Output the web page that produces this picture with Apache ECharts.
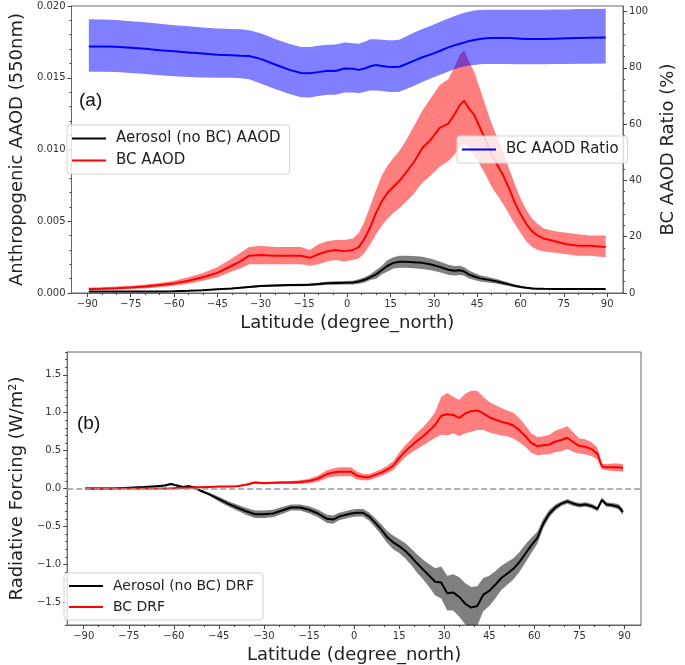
<!DOCTYPE html>
<html><head><meta charset="utf-8">
<script src="https://cdn.jsdelivr.net/npm/echarts@6/dist/echarts.min.js"></script>
<style>html,body{margin:0;padding:0;background:#fff}#c{width:685px;height:665px}</style>
</head><body><div id="c"></div>
<script>
// ---- tick labels ----
const latTicks = [-90,-75,-60,-45,-30,-15,0,15,30,45,60,75,90];
const latMinorTicks = [-90,-85,-80,-75,-70,-65,-60,-55,-50,-45,-40,-35,-30,-25,-20,-15,-10,-5,0,5,10,15,20,25,30,35,40,45,50,55,60,65,70,75,80,85,90];
const ratioTicks = [0,20,40,60,80,100];
const ratioMinorTicks = [0,4,8,12,16,20,24,28,32,36,40,44,48,52,56,60,64,68,72,76,80,84,88,92,96,100];
const drfTicks = [-1.5,-1.0,-0.5,0,0.5,1.0,1.5];
const drfMinorTicks = [-1.8,-1.7,-1.6,-1.5,-1.4,-1.3,-1.2,-1.1,-1.0,-0.9,-0.8,-0.7,-0.6,-0.5,-0.4,-0.3,-0.2,-0.1,0,0.1,0.2,0.3,0.4,0.5,0.6,0.7,0.8,0.9,1.0,1.1,1.2,1.3,1.4,1.5,1.6,1.7,1.8];

// ---- panel (a): AAOD and ratio ----
const latA = [-89.5,-85,-80,-75,-70,-65,-60,-55,-50,-45,-40,-37,-34,-30,-25,-20,-16,-13,-10,-7,-4,-1,2,4,6,8,10,12,14,16,18,20,23,26,29,32,35,37,39,40.5,42,44,46,48,50,52,54,56,58,60,62,64,66,68,72,76,80,84,89.5];
const bcAaod = [.00028,.0003,.00033,.00038,.00045,.00055,.00067,.00085,.0011,.0014, .0019,.0022,.0026,.00265,.0026,.0026,.0026,.00245,.0027,.0029, .003,.0029,.003,.0032,.0038,.0046,.0056,.0064,.007,.0074, .0078,.0083,.0091,.0101,.0107,.0115,.0118,.0124,.0131,.0134, .0129,.0124,.0115,.0106,.0097,.0089,.0082,.0073,.0063,.0055, .0048,.0043,.004,.0038,.0036,.0034,.0033,.0033,.0032];
const bcAaodHi = [.00038,.0004,.00045,.0005,.0006,.0007,.00085,.0011,.0014,.0018, .0024,.0028,.0032,.0033,.0032,.0032,.0032,.003,.0034,.0036, .0037,.0037,.0038,.0042,.005,.0061,.0072,.0082,.0089,.0094, .0099,.0105,.0116,.0127,.0136,.0145,.0149,.0157,.0166,.0169, .0162,.0154,.0142,.013,.0118,.0108,.0098,.0087,.0076,.0066, .0058,.0052,.0048,.0045,.0043,.0042,.0041,.004,.004];
const bcAaodLo = [.0002,.00022,.00024,.00028,.00032,.0004,.0005,.00065,.00085,.0011, .0015,.0017,.002,.002,.002,.002,.002,.0019,.002,.0022, .0023,.0022,.0023,.0024,.0028,.0034,.0041,.0047,.0052,.0056, .0059,.0063,.0069,.0077,.0082,.0088,.0092,.0096,.0102,.0104, .0101,.0096,.0089,.0082,.0074,.0068,.0062,.0055,.0048,.0042, .0036,.0032,.003,.0029,.0028,.0027,.0026,.0026,.0025];
const aeroAaod = [.0001,.0001,.0001,.0001,.0001,.0001,.00012,.00015,.0002,.00026, .00032,.00037,.00042,.00048,.00053,.00055,.00056,.00058,.00062,.00068, .0007,.00071,.00073,.0008,.00092,.0011,.0013,.0016,.0019,.0021, .00218,.00218,.00215,.0021,.00198,.00182,.00162,.00155,.00158,.0015, .0013,.00115,.00102,.00095,.00088,.0008,.0007,.0006,.0005,.00042, .00036,.00032,.0003,.00029,.00028,.00028,.00028,.00028,.00028];
const aeroAaodHi = [.00013,.00013,.00013,.00013,.00013,.00013,.00015,.00018,.00024,.0003, .00037,.00042,.00048,.00055,.0006,.00063,.00065,.00067,.00072,.00079, .00082,.00083,.00086,.00095,.0011,.0013,.0016,.0019,.0023,.0025, .0026,.0026,.00258,.00252,.00238,.0022,.00196,.00188,.0019,.0018, .00158,.0014,.00124,.00115,.00106,.00096,.00084,.00072,.0006,.0005, .00043,.00038,.00035,.00033,.00032,.00032,.00032,.00032,.00032];
const aeroAaodLo = [.00007,.00007,.00007,.00007,.00007,.00007,.00009,.00012,.00016,.00022, .00027,.00032,.00036,.00041,.00046,.00047,.00047,.00049,.00052,.00057, .00058,.00059,.0006,.00065,.00074,.0009,.001,.0013,.0015,.0017, .00176,.00176,.00172,.00168,.00158,.00144,.00128,.00122,.00126,.0012, .00102,.0009,.0008,.00075,.0007,.00064,.00056,.00048,.0004,.00034, .00029,.00026,.00025,.00025,.00024,.00024,.00024,.00024,.00024];
const ratio = [87.6,87.6,87.5,87.2,86.8,86.3,85.9,85.5,85.1,84.7, 84.5,84.3,84.2,83.2,81.2,79.3,78.2,78.1,78.5,79.0, 78.9,79.8,79.7,79.3,79.8,80.6,81.0,80.7,80.4,80.3, 80.4,81.2,82.5,83.8,84.8,86.0,87.3,88.0,88.6,89.0, 89.5,89.9,90.3,90.5,90.6,90.6,90.6,90.6,90.5,90.4, 90.3,90.3,90.3,90.3,90.4,90.5,90.6,90.7,90.8];
const ratioHi = [97.3,97.2,97.0,96.6,96.2,95.7,95.2,94.8,94.4,94.0, 93.8,93.7,93.4,92.3,90.3,88.5,87.4,87.4,87.9,88.2, 88.3,89.0,88.8,88.6,89.3,90.2,90.2,90.0,89.8,89.8, 90.0,91.0,92.5,93.8,95.0,96.3,97.6,98.4,99.1,99.6, 100.0,100.4,100.6,100.7,100.7,100.7,100.7,100.7,100.7,100.7, 100.7,100.7,100.7,100.7,100.8,100.8,100.9,100.9,101.0];
const ratioLo = [78.6,78.6,78.5,78.2,77.8,77.4,77.0,76.8,76.6,76.5, 76.5,76.3,76.0,74.5,72.5,70.7,69.6,69.5,70.0,70.5, 70.5,71.3,71.3,71.0,71.5,72.0,72.0,71.8,71.5,71.4, 71.5,72.3,73.6,75.0,76.3,77.5,78.7,79.5,80.1,80.5, 80.8,81.0,81.3,81.4,81.4,81.4,81.4,81.4,81.3,81.3, 81.3,81.3,81.3,81.3,81.4,81.4,81.5,81.5,81.6];

// ---- panel (b): radiative forcing ----
const latB = [-89.5,-85,-80,-75,-70,-66,-63,-61,-59,-57, -55,-53,-51,-48,-45,-42,-39,-36,-33,-30, -27,-24,-21,-18,-15,-12,-9,-7,-5,-3, -1,1,3,5,7,9,11,13,15,17, 19,21,23,25,27,29,31,33,35,37, 39,41,43,45,47,49,51,53,55,57, 59,61,63,65,67,69,71,73,75,77, 79,81,82.5,84,86,88,89.5];
const aeroDrf = [0,0,0,0.01,0.02,0.03,0.04,0.06,0.04,0.02, 0.03,0.01,-0.03,-0.08,-0.14,-0.2,-0.25,-0.3,-0.34,-0.34, -0.33,-0.29,-0.25,-0.25,-0.28,-0.33,-0.4,-0.41,-0.37,-0.35, -0.33,-0.32,-0.32,-0.37,-0.45,-0.54,-0.64,-0.71,-0.76,-0.82, -0.9,-0.99,-1.07,-1.15,-1.23,-1.24,-1.38,-1.37,-1.43,-1.52, -1.57,-1.55,-1.4,-1.35,-1.27,-1.18,-1.12,-1.06,-0.97,-0.86, -0.75,-0.65,-0.46,-0.33,-0.25,-0.2,-0.17,-0.2,-0.22,-0.21, -0.23,-0.27,-0.15,-0.21,-0.22,-0.24,-0.31];
const aeroDrfHi = [0.005,0.005,0.005,0.018,0.03,0.04,0.052,0.072,0.052,0.032, 0.042,0.022,-0.015,-0.06,-0.11,-0.165,-0.21,-0.255,-0.29,-0.29, -0.28,-0.245,-0.21,-0.21,-0.235,-0.28,-0.345,-0.355,-0.32,-0.3, -0.28,-0.27,-0.27,-0.315,-0.39,-0.47,-0.56,-0.62,-0.67,-0.72, -0.79,-0.87,-0.94,-1.0,-1.05,-1.03,-1.15,-1.13,-1.17,-1.25, -1.3,-1.29,-1.18,-1.15,-1.09,-1.02,-0.97,-0.92,-0.84,-0.74, -0.65,-0.57,-0.4,-0.28,-0.21,-0.17,-0.14,-0.17,-0.19,-0.18, -0.2,-0.24,-0.12,-0.18,-0.19,-0.205,-0.27];
const aeroDrfLo = [-0.005,-0.005,-0.005,0.002,0.01,0.02,0.028,0.048,0.028,0.008, 0.018,-0.002,-0.045,-0.1,-0.17,-0.235,-0.29,-0.345,-0.39,-0.39, -0.38,-0.335,-0.29,-0.29,-0.325,-0.38,-0.455,-0.465,-0.42,-0.4, -0.38,-0.37,-0.37,-0.425,-0.51,-0.61,-0.72,-0.8,-0.85,-0.92, -1.01,-1.11,-1.2,-1.3,-1.41,-1.45,-1.61,-1.61,-1.69,-1.79, -1.84,-1.81,-1.62,-1.55,-1.45,-1.34,-1.27,-1.2,-1.1,-0.98, -0.85,-0.73,-0.52,-0.38,-0.29,-0.23,-0.2,-0.23,-0.25,-0.24, -0.26,-0.3,-0.18,-0.24,-0.25,-0.275,-0.35];
const bcDrf = [0,0,0,0,0,0,0,0,0.005,0.01, 0.01,0.015,0.015,0.02,0.025,0.025,0.03,0.05,0.08,0.07, 0.075,0.08,0.08,0.085,0.1,0.13,0.19,0.21,0.22,0.22, 0.22,0.17,0.15,0.15,0.18,0.21,0.25,0.3,0.4,0.49, 0.56,0.63,0.69,0.76,0.84,0.96,0.98,0.97,0.93,0.99, 1.02,1.03,0.99,0.94,0.91,0.88,0.86,0.83,0.77,0.69, 0.6,0.56,0.57,0.58,0.62,0.64,0.67,0.61,0.56,0.55, 0.52,0.46,0.29,0.28,0.28,0.28,0.27];
const bcDrfHi = [0.005,0.005,0.005,0.005,0.005,0.005,0.005,0.005,0.01,0.016, 0.016,0.022,0.022,0.028,0.033,0.034,0.04,0.062,0.095,0.085, 0.09,0.097,0.1,0.11,0.13,0.17,0.24,0.265,0.28,0.28, 0.28,0.22,0.19,0.19,0.22,0.255,0.3,0.36,0.47,0.57, 0.65,0.74,0.81,0.9,1.01,1.21,1.26,1.21,1.17,1.25, 1.29,1.29,1.21,1.14,1.1,1.06,1.03,1.0,0.93,0.83, 0.73,0.68,0.69,0.71,0.76,0.79,0.82,0.74,0.66,0.65, 0.61,0.54,0.33,0.32,0.33,0.33,0.32];
const bcDrfLo = [-0.005,-0.005,-0.005,-0.005,-0.005,-0.005,-0.005,-0.005,0,0.004, 0.004,0.008,0.008,0.012,0.017,0.016,0.02,0.038,0.065,0.055, 0.06,0.063,0.06,0.06,0.07,0.09,0.14,0.155,0.16,0.16, 0.16,0.12,0.11,0.11,0.14,0.165,0.2,0.24,0.33,0.41, 0.47,0.52,0.57,0.62,0.67,0.71,0.7,0.73,0.69,0.73, 0.75,0.77,0.77,0.74,0.72,0.7,0.69,0.66,0.61,0.55, 0.47,0.44,0.45,0.45,0.48,0.49,0.52,0.48,0.46,0.45, 0.43,0.38,0.25,0.24,0.23,0.23,0.22];

// ---- build chart ----
const FONT = 'DejaVu Sans';
const frame = '#666';
const tickCol = '#444';
const minus = s => String(s).replace('-', '\u2212');
const pairs = (xs, ys) => xs.map((x, i) => [x, ys[i]]);

// shaded band between lo and hi, drawn as one polygon through the axis scales
function bandSeries(xs, lo, hi, color, xi, yi) {
  return {
    type:'custom', xAxisIndex:xi, yAxisIndex:yi, silent:true, z:2,
    data: xs.map((x, i) => [x, lo[i], hi[i]]),
    dimensions:['x','lo','hi'],
    encode:{x:0, y:[1,2]},
    renderItem: function (params, api) {
      if (params.dataIndexInside !== 0) return null;
      const n = params.dataInsideLength;
      const top = [], bot = [];
      for (let i = 0; i < n; i++) {
        const x = api.value(0, i);
        top.push(api.coord([x, api.value(2, i)]));
        bot.push(api.coord([x, api.value(1, i)]));
      }
      const cs = params.coordSys;
      return {
        type:'polygon',
        shape:{points: top.concat(bot.reverse())},
        style:{fill:color, stroke:null},
        clipPath:{type:'rect', shape:{x:cs.x, y:cs.y, width:cs.width, height:cs.height}}
      };
    }
  };
}
function lineSeries(name, xs, ys, color, xi, yi, extra) {
  return Object.assign({type:'line', name:name, xAxisIndex:xi, yAxisIndex:yi, data:pairs(xs, ys),
    symbol:'none', showSymbol:false, lineStyle:{color:color, width:2}, itemStyle:{color:color}, z:3}, extra || {});
}
function mainX(grid) {
  return {type:'value', gridIndex:grid, min:-95.5, max:95.5, position:'bottom',
    name:'Latitude (degree_north)', nameLocation:'middle', nameGap:21,
    nameTextStyle:{fontSize:18, color:'#222', fontFamily:FONT},
    axisLine:{show:true, onZero:false, lineStyle:{color:frame}},
    axisTick:{show:true, customValues:latTicks, length:4, lineStyle:{color:tickCol}},
    axisLabel:{customValues:latTicks, fontSize:10, color:'#333', margin:6, formatter:v => minus(v)},
    splitLine:{show:false}};
}
function minorX(grid) {
  return {type:'value', gridIndex:grid, min:-95.5, max:95.5, position:'bottom',
    axisLine:{show:false, onZero:false}, axisLabel:{show:false},
    axisTick:{show:true, customValues:latMinorTicks, length:2, lineStyle:{color:tickCol}},
    splitLine:{show:false}};
}
const legendCommon = {icon:'rect', itemWidth:34, itemHeight:2, itemGap:7, selectedMode:false,
  backgroundColor:'rgba(255,255,255,0.8)', borderColor:'#d4d4d4', borderWidth:1, borderRadius:3,
  padding:[6,9,6,5], textStyle:{fontSize:15, color:'#222', fontFamily:FONT, padding:[0,0,0,5]}};

const option = {
  animation:false,
  textStyle:{fontFamily:FONT},
  grid:[
    {left:57, right:44, top:6, height:287, show:true, borderColor:frame, borderWidth:1, backgroundColor:'transparent'},
    {left:57, right:44, top:352, height:275, show:true, borderColor:frame, borderWidth:1, backgroundColor:'transparent'}
  ],
  xAxis:[mainX(0), minorX(0), mainX(1), minorX(1)],
  yAxis:[
    {type:'value', gridIndex:0, min:0, max:0.02, interval:0.005, position:'left',
     name:'Anthropogenic AAOD (550nm)', nameLocation:'middle', nameGap:34, nameRotate:90,
     nameTextStyle:{fontSize:18, color:'#222', fontFamily:FONT},
     axisLine:{show:true, onZero:false, lineStyle:{color:frame}},
     axisTick:{show:true, length:4, lineStyle:{color:tickCol}},
     minorTick:{show:true, splitNumber:5, length:2, lineStyle:{color:tickCol}},
     axisLabel:{fontSize:10, color:'#333', margin:6, formatter:v => v.toFixed(3)},
     splitLine:{show:false}, minorSplitLine:{show:false}},
    {type:'value', gridIndex:0, min:0, max:102, position:'right',
     name:'BC AAOD Ratio (%)', nameLocation:'middle', nameGap:27, nameRotate:90,
     nameTextStyle:{fontSize:18, color:'#222', fontFamily:FONT},
     axisLine:{show:true, onZero:false, lineStyle:{color:frame}},
     axisTick:{show:true, customValues:ratioTicks, length:4, lineStyle:{color:tickCol}},
     axisLabel:{customValues:ratioTicks, fontSize:10, color:'#333', margin:6},
     splitLine:{show:false}},
    {type:'value', gridIndex:0, min:0, max:102, position:'right',
     axisLine:{show:false, onZero:false}, axisLabel:{show:false},
     axisTick:{show:true, customValues:ratioMinorTicks, length:2, lineStyle:{color:tickCol}},
     splitLine:{show:false}},
    {type:'value', gridIndex:1, min:-1.8, max:1.8, position:'left',
     name:'Radiative Forcing (W/m\u00b2)', nameLocation:'middle', nameGap:34, nameRotate:90,
     nameTextStyle:{fontSize:18, color:'#222', fontFamily:FONT},
     axisLine:{show:true, onZero:false, lineStyle:{color:frame}},
     axisTick:{show:true, customValues:drfTicks, length:4, lineStyle:{color:tickCol}},
     axisLabel:{customValues:drfTicks, fontSize:10, color:'#333', margin:6, formatter:v => minus(v.toFixed(1))},
     splitLine:{show:false}},
    {type:'value', gridIndex:1, min:-1.8, max:1.8, position:'left',
     axisLine:{show:false, onZero:false}, axisLabel:{show:false},
     axisTick:{show:true, customValues:drfMinorTicks, length:2, lineStyle:{color:tickCol}},
     splitLine:{show:false}}
  ],
  legend:[
    Object.assign({}, legendCommon, {data:['Aerosol (no BC) AAOD','BC AAOD'], orient:'vertical', left:67, top:125}),
    Object.assign({}, legendCommon, {data:['BC AAOD Ratio'], orient:'vertical', left:457, top:136}),
    Object.assign({}, legendCommon, {data:['Aerosol (no BC) DRF','BC DRF'], orient:'vertical', left:64, top:573,
      textStyle:{fontSize:14, color:'#222', fontFamily:FONT, padding:[0,0,0,5]}})
  ],
  graphic:[
    {type:'text', left:79, top:91, style:{text:'(a)', font:'19px "Liberation Sans"', fill:'#111'}},
    {type:'text', left:77, top:414, style:{text:'(b)', font:'19px "Liberation Sans"', fill:'#111'}}
  ],
  series:[
    bandSeries(latA, bcAaodLo, bcAaodHi, 'rgba(255,0,0,0.5)', 0, 0),
    bandSeries(latA, aeroAaodLo, aeroAaodHi, 'rgba(0,0,0,0.5)', 0, 0),
    lineSeries('Aerosol (no BC) AAOD', latA, aeroAaod, '#000', 0, 0),
    lineSeries('BC AAOD', latA, bcAaod, '#ff0000', 0, 0),
    bandSeries(latA, ratioLo, ratioHi, 'rgba(0,0,255,0.5)', 0, 1),
    lineSeries('BC AAOD Ratio', latA, ratio, '#0000ff', 0, 1),
    bandSeries(latB, aeroDrfLo, aeroDrfHi, 'rgba(0,0,0,0.5)', 2, 3),
    bandSeries(latB, bcDrfLo, bcDrfHi, 'rgba(255,0,0,0.5)', 2, 3),
    lineSeries('Aerosol (no BC) DRF', latB, aeroDrf, '#000', 2, 3),
    lineSeries('BC DRF', latB, bcDrf, '#ff0000', 2, 3, {
      markLine:{silent:true, symbol:'none', label:{show:false},
        lineStyle:{color:'#999', type:[6,3], width:1.5}, data:[{yAxis:0}]}
    })
  ]
};
const chart = echarts.init(document.getElementById('c'), null, {renderer:'canvas'});
chart.setOption(option);
</script></body></html>
